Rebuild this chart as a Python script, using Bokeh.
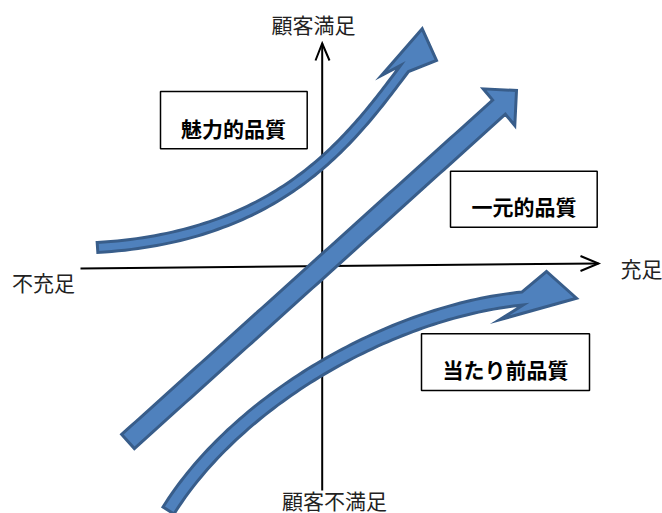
import numpy as np
from math import comb
from bokeh.plotting import figure
from bokeh.models import Range1d
from bokeh.core.properties import value
from bokeh.embed import file_html
from bokeh.resources import INLINE

# ---- Kano model categories and their label boxes (data units = picture px, y up)
categories = ["魅力的品質", "一元的品質", "当たり前品質"]
box_left = [160, 450, 421]
box_right = [306.7, 596.7, 589]
box_bottom = [364.7, 286.3, 123]
box_top = [422, 342.3, 179.7]
label_x = [233, 523.5, 505]
label_y = [386, 308, 144.7]

# ---- axis captions
axis_labels = ["顧客満足", "顧客不満足", "不充足", "充足"]
axis_label_x = [313, 334, 43, 641]
axis_label_y = [489.5, 14, 232, 245.5]

# ---- axes lines and chevron heads
h_axis_x = [80, 598]
h_axis_y = [245, 250]
v_axis_x = [321.7, 321.7]
v_axis_y = [23, 470]
h_head_x = [580, 598, 580]
h_head_y = [257.5, 250, 242.5]
v_head_x = [315, 321.7, 329]
v_head_y = [453, 470, 453]

# ---- block arrows: shaft Bezier control points, head (left barb, tip, right barb), shaft width
arrow1_ctrl_x = [97, 280, 350, 404]
arrow1_ctrl_y = [266, 277, 373, 445]
arrow1_head_x = [381, 421.7, 436]
arrow1_head_y = [438, 484.7, 453]
arrow1_width = 10

arrow2_ctrl_x = [127.5, 498.5]
arrow2_ctrl_y = [72, 406.3]
arrow2_head_x = [482.7, 516, 514.3]
arrow2_head_y = [424.7, 423, 388]
arrow2_width = 19

arrow3_ctrl_x = [168, 238, 392, 522]
arrow3_ctrl_y = [3, 115, 202, 215]
arrow3_head_x = [546, 576, 499]
arrow3_head_y = [242, 215.3, 193.7]
arrow3_width = 13

FILL = "#4F81BD"
EDGE = "#385D8A"
LABEL_FONT = "Noto Sans CJK JP"


def bezier(cx, cy, n=80):
    cx = np.asarray(cx, float)
    cy = np.asarray(cy, float)
    deg = len(cx) - 1
    t = np.linspace(0, 1, n)
    bx = np.zeros(n)
    by = np.zeros(n)
    for i in range(deg + 1):
        b = comb(deg, i) * (1 - t) ** (deg - i) * t ** i
        bx += b * cx[i]
        by += b * cy[i]
    return bx, by


def arrow_polygon(cx, cy, hx, hy, w):
    bx, by = bezier(cx, cy)
    dx = np.gradient(bx)
    dy = np.gradient(by)
    nrm = np.hypot(dx, dy)
    nx, ny = -dy / nrm, dx / nrm
    lx, ly = bx + nx * w / 2, by + ny * w / 2
    rx, ry = bx - nx * w / 2, by - ny * w / 2
    px = list(lx) + list(hx) + list(rx[::-1])
    py = list(ly) + list(hy) + list(ry[::-1])
    return px, py


p = figure(width=662, height=513, output_backend="svg", toolbar_location=None,
           x_range=Range1d(0, 662), y_range=Range1d(0, 513),
           min_border=0, min_border_left=0, min_border_right=0,
           min_border_top=0, min_border_bottom=0)
p.axis.visible = False
p.grid.visible = False
p.outline_line_color = None
p.background_fill_color = "white"
p.border_fill_color = "white"

# axes
p.line(h_axis_x, h_axis_y, line_color="black", line_width=2)
p.line(v_axis_x, v_axis_y, line_color="black", line_width=2)
p.line(h_head_x, h_head_y, line_color="black", line_width=2, line_join="miter")
p.line(v_head_x, v_head_y, line_color="black", line_width=2, line_join="miter")

# block arrows
for cx, cy, hx, hy, w in [
    (arrow1_ctrl_x, arrow1_ctrl_y, arrow1_head_x, arrow1_head_y, arrow1_width),
    (arrow2_ctrl_x, arrow2_ctrl_y, arrow2_head_x, arrow2_head_y, arrow2_width),
    (arrow3_ctrl_x, arrow3_ctrl_y, arrow3_head_x, arrow3_head_y, arrow3_width),
]:
    px, py = arrow_polygon(cx, cy, hx, hy, w)
    p.patch(px, py, fill_color=FILL, line_color=EDGE, line_width=3, line_join="miter")

# label boxes
p.quad(left=box_left, right=box_right, bottom=box_bottom, top=box_top,
       fill_color="white", line_color="black", line_width=1.5)
p.text(x=label_x, y=label_y, text=categories, text_font=value(LABEL_FONT),
       text_font_style="bold", text_font_size="21px", text_color="black",
       text_align="center", text_baseline="middle")

# axis captions
p.text(x=axis_label_x, y=axis_label_y, text=axis_labels, text_font=value(LABEL_FONT),
       text_font_size="21px", text_color="#222222",
       text_align="center", text_baseline="middle")

open("out.html", "w").write(file_html(p, INLINE))
